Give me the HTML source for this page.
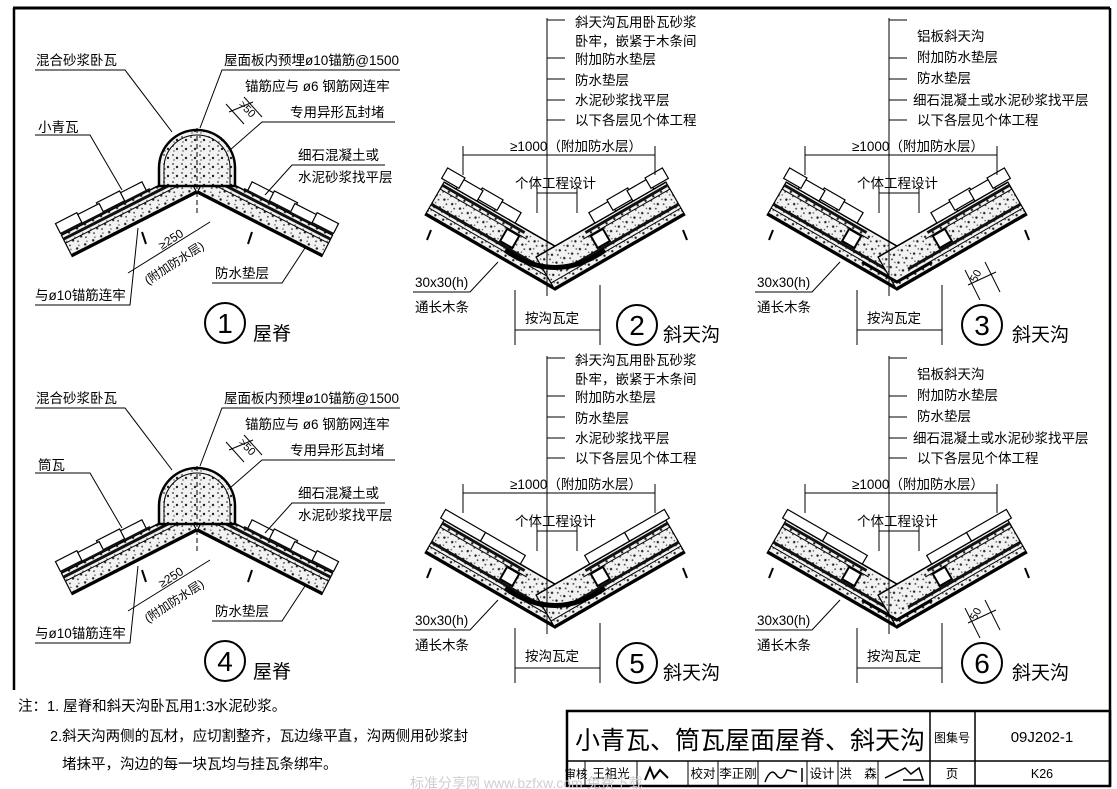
<!DOCTYPE html>
<html><head><meta charset="utf-8">
<style>
html,body{margin:0;padding:0;background:#fff;}
svg{display:block;}
text{font-family:"Liberation Sans","Noto Sans CJK SC",sans-serif;fill:#000;}
</style></head>
<body>
<svg width="1117" height="789" viewBox="0 0 1117 789" xmlns="http://www.w3.org/2000/svg">
<defs>
<pattern id="st" width="9" height="9" patternUnits="userSpaceOnUse">
<rect width="9" height="9" fill="#f2f2f2"/>
<circle cx="2" cy="2" r="0.9" fill="#333"/>
<circle cx="6" cy="5" r="1.2" fill="#222"/>
<circle cx="3" cy="7" r="0.7" fill="#444"/>
</pattern>
<g id="rh">
<rect x="0" y="0" width="140" height="24" fill="url(#st)" stroke="#000" stroke-width="1.2"/>
<line x1="0" y1="1.5" x2="140" y2="1.5" stroke="#000" stroke-width="2.5"/>
<line x1="0" y1="15" x2="140" y2="15" stroke="#000" stroke-width="1"/>
<rect x="0" y="18" width="140" height="3" fill="#111"/>
<line x1="0" y1="24" x2="140" y2="24" stroke="#000" stroke-width="1.5"/>
<g fill="#fff" stroke="#000" stroke-width="1.2">
<rect x="44" y="24" width="26" height="11"/>
<rect x="68" y="26" width="26" height="11"/>
<rect x="92" y="24" width="26" height="11"/>
<rect x="116" y="26" width="24" height="11"/>
</g>
<rect x="40" y="24" width="100" height="2" fill="#111"/>
</g>
<g id="gh">
<rect x="0" y="0" width="150" height="38" fill="url(#st)" stroke="#000" stroke-width="1.2"/>
<line x1="0" y1="1.5" x2="150" y2="1.5" stroke="#000" stroke-width="2.5"/>
<line x1="0" y1="8" x2="150" y2="8" stroke="#000" stroke-width="1"/>
<rect x="20" y="11" width="130" height="3" fill="#111"/>
<line x1="50" y1="30" x2="150" y2="30" stroke="#000" stroke-width="1"/>
<rect x="55" y="33" width="95" height="3" fill="#111"/>
<rect x="58" y="15" width="14" height="14" fill="#fff" stroke="#000" stroke-width="2"/>
<line x1="0" y1="38" x2="150" y2="38" stroke="#000" stroke-width="1.5"/>
</g>
<g id="tiles4" fill="#fff" stroke="#000" stroke-width="1.2">
<rect x="68" y="38" width="24" height="12"/>
<rect x="90" y="40" width="24" height="12"/>
<rect x="112" y="38" width="24" height="12"/>
<rect x="134" y="40" width="20" height="12"/>
</g>
<g id="tiles1" fill="#fff" stroke="#000" stroke-width="1.2">
<rect x="62" y="38" width="46" height="10"/>
<rect x="108" y="38" width="46" height="10"/>
</g>
<g id="ridge">
<g transform="translate(197,193) rotate(153)"><use href="#rh"/></g>
<g transform="translate(394,0) scale(-1,1)"><g transform="translate(197,193) rotate(153)"><use href="#rh"/></g></g>
<path d="M159,186 L159,168 A38,38 0 0 1 235,168 L235,186 Z" fill="url(#st)" stroke="#000" stroke-width="2.5"/>
<path d="M164,186 L164,168 A33,33 0 0 1 230,168 L230,186" fill="none" stroke="#000" stroke-width="1"/>
<line x1="197" y1="128" x2="197" y2="215" stroke="#000" stroke-width="1" stroke-dasharray="5,3"/>
<line x1="142" y1="232" x2="146" y2="244" stroke="#000" stroke-width="2"/>
<line x1="252" y1="232" x2="248" y2="244" stroke="#000" stroke-width="2"/>
</g>
</defs>

<line x1="13" y1="8" x2="1110" y2="8" stroke="#000" stroke-width="3"/>
<line x1="14" y1="8" x2="14" y2="690" stroke="#000" stroke-width="2.5"/>
<line x1="1110" y1="8" x2="1110" y2="786" stroke="#000" stroke-width="2.5"/>

<use href="#ridge"/>
<g transform="translate(0,338)"><use href="#ridge"/></g>

<g stroke="#000" stroke-width="1" fill="none">
<g id="rl">
<polyline points="35,70 125,70 172,132"/>
<polyline points="400,70 222,70 200,128"/>
<polyline points="395,122 262,122 230,150"/>
<polyline points="35,135 90,135 122,190"/>
<polyline points="385,165 292,165 265,195"/>
<polyline points="212,283 282,283 305,248"/>
<polyline points="35,305 130,305 138,228"/>
<line x1="128" y1="273" x2="210" y2="222"/>
<line x1="226" y1="104" x2="244" y2="124"/><line x1="244" y1="97" x2="262" y2="117"/><line x1="229" y1="112" x2="253" y2="102"/>
</g>
<g transform="translate(0,338)"><use href="#rl"/></g>
</g>

<g font-size="13.5">
<text x="36" y="65">混合砂浆卧瓦</text>
<text x="224" y="65">屋面板内预埋ø10锚筋@1500</text>
<text x="245" y="91">锚筋应与 ø6 钢筋网连牢</text>
<text x="290" y="117">专用异形瓦封堵</text>
<text x="38" y="132">小青瓦</text>
<text x="298" y="160">细石混凝土或</text>
<text x="298" y="182">水泥砂浆找平层</text>
<text x="215" y="278">防水垫层</text>
<text x="35" y="300">与ø10锚筋连牢</text>
<text transform="translate(162,250) rotate(-33)" font-size="12">≥250</text>
<text transform="translate(148,285) rotate(-33)" font-size="12">(附加防水层)</text>
<text transform="translate(238,105) rotate(45)" font-size="11">&gt;50</text>
<g transform="translate(0,338)">
<text x="36" y="65">混合砂浆卧瓦</text>
<text x="224" y="65">屋面板内预埋ø10锚筋@1500</text>
<text x="245" y="91">锚筋应与 ø6 钢筋网连牢</text>
<text x="290" y="117">专用异形瓦封堵</text>
<text x="38" y="132">筒瓦</text>
<text x="298" y="160">细石混凝土或</text>
<text x="298" y="182">水泥砂浆找平层</text>
<text x="215" y="278">防水垫层</text>
<text x="35" y="300">与ø10锚筋连牢</text>
<text transform="translate(162,250) rotate(-33)" font-size="12">≥250</text>
<text transform="translate(148,285) rotate(-33)" font-size="12">(附加防水层)</text>
<text transform="translate(238,105) rotate(45)" font-size="11">&gt;50</text>
</g>
</g>

<g fill="none" stroke="#000" stroke-width="2">
<circle cx="225" cy="323" r="20"/><circle cx="225" cy="661" r="20"/>
<circle cx="637" cy="325" r="20"/><circle cx="637" cy="663" r="20"/>
<circle cx="982" cy="325" r="20"/><circle cx="982" cy="663" r="20"/>
</g>
<g font-size="28" text-anchor="middle">
<text x="225" y="333">1</text><text x="225" y="671">4</text>
<text x="637" y="335">2</text><text x="637" y="673">5</text>
<text x="982" y="335">3</text><text x="982" y="673">6</text>
</g>
<g font-size="19">
<text x="253" y="340">屋脊</text><text x="253" y="678">屋脊</text>
<text x="663" y="341">斜天沟</text><text x="663" y="679">斜天沟</text>
<text x="1012" y="341">斜天沟</text><text x="1012" y="679">斜天沟</text>
</g>

<g>
<g transform="translate(555,290) rotate(-150)"><use href="#gh"/><use href="#tiles4"/></g>
<g transform="translate(1110,0) scale(-1,1)"><g transform="translate(555,290) rotate(-150)"><use href="#gh"/><use href="#tiles4"/></g></g>
<path d="M505,250 Q555,285 605,250" fill="none" stroke="#000" stroke-width="5"/>
</g>
<g transform="translate(0,338)">
<g transform="translate(555,290) rotate(-150)"><use href="#gh"/><use href="#tiles1"/></g>
<g transform="translate(1110,0) scale(-1,1)"><g transform="translate(555,290) rotate(-150)"><use href="#gh"/><use href="#tiles1"/></g></g>
<path d="M505,250 Q555,285 605,250" fill="none" stroke="#000" stroke-width="5"/>
</g>
<g transform="translate(342,0)">
<g transform="translate(555,290) rotate(-150)"><use href="#gh"/><use href="#tiles4"/></g>
<g transform="translate(1110,0) scale(-1,1)"><g transform="translate(555,290) rotate(-150)"><use href="#gh"/><use href="#tiles4"/></g></g>
<polyline points="520,262 555,282 590,262" fill="none" stroke="#000" stroke-width="3"/>
</g>
<g transform="translate(342,338)">
<g transform="translate(555,290) rotate(-150)"><use href="#gh"/><use href="#tiles1"/></g>
<g transform="translate(1110,0) scale(-1,1)"><g transform="translate(555,290) rotate(-150)"><use href="#gh"/><use href="#tiles1"/></g></g>
<polyline points="520,262 555,282 590,262" fill="none" stroke="#000" stroke-width="3"/>
</g>

<g id="gl" stroke="#000" stroke-width="1" fill="none">
<line x1="547" y1="18" x2="547" y2="296"/>
<line x1="547" y1="20" x2="565" y2="20"/>
<line x1="547" y1="58" x2="565" y2="58"/>
<line x1="547" y1="79" x2="565" y2="79"/>
<line x1="547" y1="100" x2="565" y2="100"/>
<line x1="547" y1="120" x2="565" y2="120"/>
<line x1="463" y1="155" x2="655" y2="155"/>
<line x1="463" y1="146" x2="463" y2="175"/>
<line x1="655" y1="146" x2="655" y2="175"/>
<line x1="537" y1="193" x2="577" y2="193"/>
<line x1="537" y1="188" x2="537" y2="213"/>
<line x1="577" y1="188" x2="577" y2="213"/>
<line x1="515" y1="290" x2="515" y2="345"/>
<line x1="600" y1="285" x2="600" y2="345"/>
<line x1="515" y1="330" x2="600" y2="330"/>
<polyline points="413,292 470,292 498,262"/>
<line x1="431" y1="230" x2="427" y2="240" stroke-width="2"/>
<line x1="683" y1="230" x2="687" y2="240" stroke-width="2"/>
</g>
<g stroke="#000" stroke-width="1" fill="none">
<g transform="translate(0,338)"><use href="#gl"/></g>
<g transform="translate(342,0)"><use href="#gl"/></g>
<g transform="translate(342,338)"><use href="#gl"/></g>
<line x1="965" y1="270" x2="980" y2="300"/><line x1="985" y1="262" x2="1000" y2="292"/><line x1="968" y1="285" x2="996" y2="272"/>
<line x1="965" y1="608" x2="980" y2="638"/><line x1="985" y1="600" x2="1000" y2="630"/><line x1="968" y1="623" x2="996" y2="610"/>
</g>

<g font-size="13.5">
<g id="gt2">
<text x="575" y="27">斜天沟瓦用卧瓦砂浆</text>
<text x="575" y="46">卧牢，嵌紧于木条间</text>
<text x="575" y="64">附加防水垫层</text>
<text x="575" y="85">防水垫层</text>
<text x="575" y="105">水泥砂浆找平层</text>
<text x="575" y="125">以下各层见个体工程</text>
</g>
<g transform="translate(0,338)"><use href="#gt2"/></g>
<g id="gt3">
<text x="917" y="41">铝板斜天沟</text>
<text x="917" y="62">附加防水垫层</text>
<text x="917" y="83">防水垫层</text>
<text x="913" y="105">细石混凝土或水泥砂浆找平层</text>
<text x="917" y="125">以下各层见个体工程</text>
</g>
<g transform="translate(0,338)"><use href="#gt3"/></g>
<g id="gc">
<text x="510" y="151">≥1000（附加防水层）</text>
<text x="515" y="188">个体工程设计</text>
<text x="415" y="287">30x30(h)</text>
<text x="415" y="312">通长木条</text>
<text x="525" y="323">按沟瓦定</text>
</g>
<g transform="translate(0,338)"><use href="#gc"/></g>
<g transform="translate(342,0)"><use href="#gc"/></g>
<g transform="translate(342,338)"><use href="#gc"/></g>
<text transform="translate(976,283) rotate(-62)" font-size="11">50</text>
<text transform="translate(976,621) rotate(-62)" font-size="11">50</text>
</g>

<g font-size="14.5">
<text x="18" y="711">注：1. 屋脊和斜天沟卧瓦用1:3水泥砂浆。</text>
<text x="50" y="741">2.斜天沟两侧的瓦材，应切割整齐，瓦边缘平直，沟两侧用砂浆封</text>
<text x="62" y="769">堵抹平，沟边的每一块瓦均与挂瓦条绑牢。</text>
</g>

<g stroke="#000" fill="none">
<rect x="567" y="711" width="543" height="75" stroke-width="2.5"/>
<line x1="567" y1="761" x2="1110" y2="761" stroke-width="1.5"/>
<line x1="930" y1="711" x2="930" y2="786" stroke-width="1.5"/>
<line x1="975" y1="711" x2="975" y2="786" stroke-width="1.5"/>
<g stroke-width="1">
<line x1="585" y1="761" x2="585" y2="786"/><line x1="637" y1="761" x2="637" y2="786"/>
<line x1="688" y1="761" x2="688" y2="786"/><line x1="718" y1="761" x2="718" y2="786"/>
<line x1="758" y1="761" x2="758" y2="786"/><line x1="807" y1="761" x2="807" y2="786"/>
<line x1="838" y1="761" x2="838" y2="786"/><line x1="878" y1="761" x2="878" y2="786"/>
</g>
<path d="M645,780 l5,-12 l4,10 l6,-8 l8,8" stroke-width="2"/>
<path d="M765,782 q6,-16 12,-6 q6,6 10,-6 l10,2 M802,768 l0,14" stroke-width="1.5"/>
<path d="M885,778 l20,-10 l6,6 l8,-6 l4,12 l-20,0" stroke-width="1.5"/>
</g>
<g font-size="12.5" text-anchor="middle">
<text x="750" y="749" font-size="25">小青瓦、筒瓦屋面屋脊、斜天沟</text>
<text x="952" y="742" font-size="12">图集号</text>
<text x="1042" y="742" font-size="15">09J202-1</text>
<text x="576" y="778" font-size="11.5">审核</text>
<text x="611" y="778">王祖光</text>
<text x="703" y="778">校对</text>
<text x="738" y="778">李正刚</text>
<text x="822" y="778">设计</text>
<text x="858" y="778">洪　森</text>
<text x="952" y="778">页</text>
<text x="1042" y="778">K26</text>
</g>
<text x="410" y="788" font-size="14" style="fill:#cfcfcf">标准分享网 www.bzfxw.com 免费下载</text>
</svg>
</body></html>
